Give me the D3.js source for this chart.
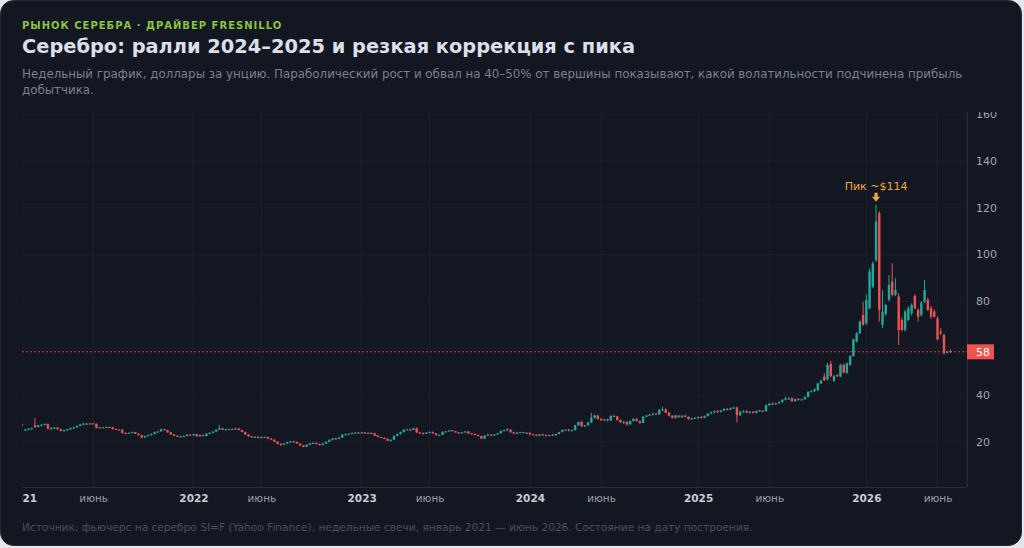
<!DOCTYPE html>
<html lang="ru">
<head>
<meta charset="utf-8">
<script src="https://d3js.org/d3.v7.min.js"></script>
<style>
  html, body { margin: 0; padding: 0; background: #e6e7eb; }
  svg { display: block; font-family: "DejaVu Sans", sans-serif; }
</style>
</head>
<body>
<svg id="chart" width="1024" height="548"></svg>
<script>
// weekly candles, first bar = week of 2020-12-28
const firstWeek = "2020-12-28";

const opens = [
  27.3,24.8,25.2,25.4,27.0,26.3,27.0,27.2,27.6,25.6,25.9,26.0,25.3,
  24.6,24.9,25.3,25.8,26.1,26.8,27.4,27.7,27.5,27.8,27.6,25.9,26.1,
  26.0,26.3,26.1,25.4,25.2,25.1,23.7,23.5,23.8,24.1,23.4,22.8,21.8,
  22.4,22.8,23.3,24.1,24.4,25.3,24.9,24.0,23.1,22.5,22.2,22.3,22.4,23.0,
  22.9,23.2,22.3,22.8,22.4,23.4,23.8,24.3,25.1,25.7,25.1,25.3,25.4,
  25.2,25.6,25.0,24.2,23.1,22.3,21.9,22.1,21.7,21.9,22.0,21.3,20.9,
  20.0,19.1,18.6,19.2,19.8,20.1,19.9,19.2,18.4,17.8,18.7,19.3,19.5,
  19.0,18.6,19.2,19.9,20.8,21.4,21.2,21.8,23.0,23.2,23.4,23.7,23.9,
  23.8,24.0,23.6,23.7,23.6,22.6,22.0,21.7,21.3,20.4,20.8,22.5,23.3,
  24.1,25.1,25.2,25.0,25.7,23.9,23.6,23.4,23.9,24.2,23.6,22.8,22.9,
  24.2,24.4,24.9,24.5,24.0,23.6,24.0,24.4,23.5,23.3,22.9,22.4,21.3,
  22.6,23.0,22.8,23.1,23.6,24.6,25.0,25.2,24.0,23.5,23.9,24.1,23.7,
  23.8,23.1,23.0,22.5,23.1,22.8,22.6,22.9,22.7,23.3,24.1,25.0,25.1,
  24.7,24.9,27.0,28.4,26.6,27.0,28.2,30.2,31.2,29.7,29.2,29.5,29.0,
  31.0,30.8,29.2,28.3,28.5,27.4,28.8,29.8,28.9,28.0,30.7,31.2,31.5,
  32.0,31.7,33.6,33.8,32.4,31.1,30.2,31.2,30.5,31.1,30.6,29.6,30.0,
  30.2,30.5,30.2,31.0,32.0,32.5,33.0,32.7,33.3,34.0,33.7,34.3,34.6,
  31.3,32.8,33.0,32.4,32.8,32.3,33.1,33.3,33.0,35.6,36.2,36.0,36.4,
  36.9,37.9,38.4,38.6,37.3,38.2,37.9,38.1,39.1,41.3,41.6,42.0,44.9,
  47.8,46.6,53.2,46.0,48.4,47.8,52.8,49.3,52.8,56.6,62.7,66.3,74.1,
  70.6,77.0,86.3,97.6,117.6,69.9,74.6,80.6,88.4,82.7,82.0,72.0,67.7,
  72.0,74.9,82.3,76.3,74.1,79.8,80.6,77.0,75.6,72.7,67.0,65.6,58.0,58.7
];
const highs = [
  27.6,25.5,25.8,26.0,30.1,27.2,27.5,27.9,27.8,26.2,26.3,26.3,25.5,
  25.2,25.5,26.0,26.4,27.0,27.6,28.2,28.0,28.0,28.1,27.9,26.3,26.4,
  26.5,26.5,26.3,25.6,25.4,25.3,24.0,23.9,24.3,24.2,23.6,23.0,22.6,
  23.0,23.5,24.3,24.6,25.6,25.5,25.1,24.2,23.3,22.8,22.5,22.7,23.2,23.3,
  23.5,23.4,23.1,23.0,23.6,24.1,24.6,25.3,27.1,25.9,25.6,25.6,25.7,
  26.0,25.8,25.2,24.3,23.2,22.6,22.4,22.4,22.3,22.2,22.1,21.5,21.0,
  20.2,19.3,19.4,20.0,20.4,20.5,20.0,19.3,18.5,18.9,19.5,19.8,19.7,
  19.2,19.4,20.2,21.0,21.6,21.8,22.0,23.2,23.5,23.6,24.0,24.2,24.1,
  24.3,24.2,24.0,24.0,23.8,22.8,22.1,21.9,21.4,21.0,22.7,23.5,24.3,
  25.4,25.5,25.6,26.0,26.1,24.2,24.0,24.1,24.4,24.3,23.7,23.0,24.4,
  24.6,25.0,25.0,24.6,24.1,24.2,24.6,24.6,23.8,23.6,23.1,22.5,22.8,
  23.4,23.3,23.3,23.8,24.8,25.2,25.9,25.3,24.3,24.2,24.3,24.2,24.0,
  24.0,23.4,23.1,23.3,23.4,23.2,23.0,23.2,23.4,24.3,25.2,25.3,25.4,
  25.2,27.2,28.6,29.0,27.2,28.5,32.4,31.6,31.5,30.2,29.8,29.8,31.3,
  31.6,31.1,29.5,28.9,28.7,29.0,30.0,30.0,29.0,30.9,31.4,31.8,32.3,
  32.3,34.0,34.9,34.2,32.6,31.3,31.5,31.3,31.4,31.6,30.9,30.3,30.4,
  30.8,31.0,31.2,32.3,32.9,33.4,33.5,33.6,34.3,34.4,34.6,34.9,35.0,
  33.2,33.5,33.6,33.1,33.2,33.4,33.6,33.5,35.9,36.6,36.8,36.7,37.2,
  38.2,39.3,39.0,39.0,38.5,38.6,38.4,39.3,41.6,42.0,42.8,45.2,46.5,
  49.3,53.6,54.5,48.6,48.9,53.2,53.4,53.8,57.0,64.0,66.8,71.8,79.8,
  82.9,94.0,97.0,121.2,118.5,84.8,79.0,91.2,96.2,89.8,83.5,73.0,76.3,
  77.8,79.2,83.0,77.0,80.0,89.1,81.5,78.0,76.5,73.5,68.5,66.2,58.8,59.3
];
const lows = [
  26.8,24.5,24.9,25.1,25.8,26.1,26.6,26.9,25.2,25.0,25.4,25.1,24.3,
  24.2,24.6,25.1,25.5,25.9,26.6,27.0,27.3,27.3,27.4,25.6,25.8,25.8,
  25.8,25.9,25.2,25.0,24.9,23.5,23.2,23.3,23.6,23.3,22.6,21.5,21.6,
  22.2,22.6,23.1,23.8,24.2,24.7,23.8,22.9,22.3,22.0,21.9,22.0,22.2,22.6,
  22.4,22.1,22.0,22.2,22.3,23.1,23.5,24.0,24.9,24.9,24.8,25.0,25.0,
  25.0,24.8,24.0,22.9,22.0,21.6,21.6,21.4,21.5,21.6,21.1,20.7,19.8,
  18.9,18.2,18.4,19.0,19.5,19.7,19.0,18.1,17.6,17.7,18.5,19.0,18.8,
  18.3,18.4,19.0,19.7,20.5,21.0,21.0,21.6,22.6,22.9,23.1,23.4,23.5,
  23.5,23.4,23.3,23.4,22.4,21.8,21.5,21.1,20.2,20.0,20.6,22.3,23.1,
  23.9,24.9,24.8,24.9,23.8,23.3,23.0,23.3,23.6,23.4,22.6,22.6,22.8,
  23.9,24.3,24.3,23.8,23.4,23.4,23.8,23.3,23.1,22.7,22.2,21.1,21.1,
  22.4,22.6,22.5,22.9,23.4,24.3,24.6,23.8,23.3,23.2,23.6,23.5,23.3,
  22.8,22.8,22.3,22.3,22.6,22.3,22.2,22.5,22.5,23.1,23.9,24.7,24.4,
  24.5,24.8,26.8,26.3,26.2,26.8,28.0,29.8,29.4,28.9,28.8,28.7,28.9,
  30.5,29.0,28.0,27.6,26.8,27.2,28.6,28.6,27.7,27.9,30.4,31.0,31.2,
  31.4,31.5,33.0,32.1,30.8,29.8,29.9,30.2,30.2,30.4,29.3,29.3,29.6,
  29.8,29.9,30.1,30.7,31.7,32.1,32.4,32.4,33.0,33.3,33.4,34.0,28.2,
  31.0,32.4,32.1,32.0,32.0,32.1,32.8,32.6,32.9,35.3,35.6,35.8,36.0,
  36.7,37.6,37.8,37.0,37.1,37.6,37.5,37.9,38.9,41.0,41.2,41.6,44.6,
  45.9,46.2,47.5,45.5,47.6,47.5,49.2,49.0,52.5,56.3,62.4,66.0,69.5,
  69.9,76.6,85.5,96.8,71.3,68.5,73.8,80.0,82.0,82.2,61.3,67.2,67.0,
  71.5,74.0,76.5,71.3,73.5,79.2,75.8,72.5,73.0,63.3,65.5,57.2,57.7,57.9
];
const closes = [
  26.9,25.2,25.4,25.8,26.3,27.0,27.2,27.6,25.6,25.9,26.0,25.3,24.6,
  24.9,25.3,25.8,26.1,26.8,27.4,27.7,27.5,27.8,27.6,25.9,26.1,26.0,
  26.3,26.1,25.4,25.2,25.1,23.7,23.5,23.8,24.1,23.4,22.8,21.8,22.4,
  22.8,23.3,24.1,24.4,25.3,24.9,24.0,23.1,22.5,22.2,22.3,22.4,23.0,22.9,
  23.2,22.3,22.8,22.4,23.4,23.8,24.3,25.1,25.7,25.1,25.3,25.4,25.2,
  25.6,25.0,24.2,23.1,22.3,21.9,22.1,21.7,21.9,22.0,21.3,20.9,20.0,
  19.1,18.6,19.2,19.8,20.1,19.9,19.2,18.4,17.8,18.7,19.3,19.5,19.0,
  18.6,19.2,19.9,20.8,21.4,21.2,21.8,23.0,23.2,23.4,23.7,23.9,23.8,
  24.0,23.6,23.7,23.6,22.6,22.0,21.7,21.3,20.4,20.8,22.5,23.3,24.1,
  25.1,25.2,25.0,25.7,23.9,23.6,23.4,23.9,24.2,23.6,22.8,22.9,24.2,
  24.4,24.9,24.5,24.0,23.6,24.0,24.4,23.5,23.3,22.9,22.4,21.3,22.6,
  23.0,22.8,23.1,23.6,24.6,25.0,25.2,24.0,23.5,23.9,24.1,23.7,23.8,
  23.1,23.0,22.5,23.1,22.8,22.6,22.9,22.7,23.3,24.1,25.0,25.1,24.7,
  24.9,27.0,28.4,26.6,27.0,28.2,30.2,31.2,29.7,29.2,29.5,29.0,31.0,
  30.8,29.2,28.3,28.5,27.4,28.8,29.8,28.9,28.0,30.7,31.2,31.5,32.0,
  31.7,33.6,33.8,32.4,31.1,30.2,31.2,30.5,31.1,30.6,29.6,30.0,30.2,
  30.5,30.2,31.0,32.0,32.5,33.0,32.7,33.3,34.0,33.7,34.3,34.6,31.3,
  32.8,33.0,32.4,32.8,32.3,33.1,33.3,33.0,35.6,36.2,36.0,36.4,36.9,
  37.9,38.4,38.6,37.3,38.2,37.9,38.1,39.1,41.3,41.6,42.4,44.9,46.1,
  46.3,52.8,48.0,48.0,48.0,52.8,49.5,53.5,56.6,63.7,66.3,71.3,69.9,
  80.6,92.7,96.2,114.0,76.3,75.6,78.4,87.0,82.7,84.8,67.7,67.7,75.6,
  77.0,78.4,77.0,73.4,79.4,84.8,76.3,73.4,73.4,63.7,66.3,57.8,58.5,58.4
];

const priceTicks = [20, 40, 60, 80, 100, 120, 140, 160];
const timeTicks = ["2020-12-28", "2021-05-31", "2022-01-03", "2022-05-30", "2023-01-02", "2023-05-29",
                   "2024-01-01", "2024-06-03", "2024-12-30", "2025-06-02", "2025-12-29", "2026-06-01"];
const timeLabels = ["2021", "июнь", "2022", "июнь", "2023", "июнь",
                    "2024", "июнь", "2025", "июнь", "2026", "июнь"];

const upColor = "#26a69a", downColor = "#ef5350";
const W = 1024, H = 548;
const plotLeft = 22, plotRight = 967, plotTop = 112.3, plotBottom = 487;
const step = 3.235;

if (opens.length !== closes.length || highs.length !== closes.length || lows.length !== closes.length) {
  throw new Error("lengths " + [opens.length, highs.length, lows.length, closes.length].join(","));
}

const svg = d3.select("#chart");
const parse = d3.utcParse("%Y-%m-%d");
const N = closes.length;
const start = parse(firstWeek);
const weeks = d3.range(N).map(i => d3.utcWeek.offset(start, i));

const x = d3.scaleUtc()
    .domain([weeks[0], weeks[N - 1]])
    .range([plotLeft, plotLeft + step * (N - 1)]);
const y = d3.scaleLinear()
    .domain([0, 160])
    .range([488.5, 114]);

// card
svg.append("rect")
    .attr("x", 0.5).attr("y", 0.5)
    .attr("width", W - 3).attr("height", H - 3)
    .attr("rx", 13)
    .attr("fill", "#131722")
    .attr("stroke", "#262a35");

const defs = svg.append("defs");
defs.append("clipPath").attr("id", "plot")
  .append("rect").attr("x", plotLeft).attr("y", plotTop)
  .attr("width", plotRight - plotLeft).attr("height", plotBottom - plotTop);
defs.append("clipPath").attr("id", "timeclip")
  .append("rect").attr("x", plotLeft).attr("y", plotBottom).attr("width", 990 - plotLeft).attr("height", 30);
defs.append("clipPath").attr("id", "priceclip")
  .append("rect").attr("x", plotRight).attr("y", plotTop).attr("width", 56).attr("height", plotBottom - plotTop);

// header
svg.append("text").attr("x", 22).attr("y", 29)
    .attr("fill", "#8dc441").attr("font-size", 10).attr("font-weight", "bold")
    .attr("letter-spacing", 1)
    .text("РЫНОК СЕРЕБРА · ДРАЙВЕР FRESNILLO");
svg.append("text").attr("x", 22).attr("y", 52.5)
    .attr("fill", "#dcdfe7").attr("font-size", 19.4).attr("font-weight", "bold")
    .text("Серебро: ралли 2024–2025 и резкая коррекция с пика");
const sub = svg.append("text").attr("fill", "#7b808f").attr("font-size", 11.85);
sub.append("tspan").attr("x", 22).attr("y", 78)
    .text("Недельный график, доллары за унцию. Параболический рост и обвал на 40–50% от вершины показывают, какой волатильности подчинена прибыль");
sub.append("tspan").attr("x", 22).attr("y", 93.5).text("добытчика.");

svg.append("text").attr("x", 22).attr("y", 530.5)
    .attr("fill", "#4a505e").attr("font-size", 10.6)
    .text("Источник: фьючерс на серебро SI=F (Yahoo Finance), недельные свечи, январь 2021 — июнь 2026. Состояние на дату построения.");

// grid
const grid = svg.append("g").attr("clip-path", "url(#plot)");
grid.selectAll("line.h").data(priceTicks).join("line")
    .attr("x1", plotLeft).attr("x2", plotRight)
    .attr("y1", d => y(d)).attr("y2", d => y(d))
    .attr("stroke", "#1d212c");
grid.selectAll("line.v").data(timeTicks.map(parse)).join("line")
    .attr("x1", d => x(d)).attr("x2", d => x(d))
    .attr("y1", plotTop).attr("y2", plotBottom)
    .attr("stroke", "#1d212c");

// borders
svg.append("line").attr("x1", plotRight + 0.5).attr("x2", plotRight + 0.5)
    .attr("y1", plotTop).attr("y2", plotBottom)
    .attr("stroke", "#2a2e39");
svg.append("line").attr("x1", plotLeft).attr("x2", plotRight)
    .attr("y1", plotBottom + 0.5).attr("y2", plotBottom + 0.5)
    .attr("stroke", "#2a2e39");

// last price line
const last = closes[N - 1];
svg.append("line")
    .attr("x1", plotLeft).attr("x2", plotRight)
    .attr("y1", y(last)).attr("y2", y(last))
    .attr("stroke", downColor).attr("stroke-dasharray", "2,2").attr("opacity", 0.85);

// candles
const bw = 2.4;
const candles = svg.append("g").attr("clip-path", "url(#plot)");
const idx = d3.range(N);
const col = i => closes[i] >= opens[i] ? upColor : downColor;
candles.selectAll("line.wick").data(idx).join("line")
    .attr("x1", i => x(weeks[i])).attr("x2", i => x(weeks[i]))
    .attr("y1", i => y(highs[i])).attr("y2", i => y(lows[i]))
    .attr("stroke", col).attr("stroke-width", 1);
candles.selectAll("rect.body").data(idx).join("rect")
    .attr("x", i => x(weeks[i]) - bw / 2)
    .attr("y", i => y(Math.max(opens[i], closes[i])))
    .attr("width", bw)
    .attr("height", i => Math.max(1, Math.abs(y(opens[i]) - y(closes[i]))))
    .attr("fill", col);

// price axis (outer group clips, inner group is shifted)
const yAxis = svg.append("g")
    .attr("clip-path", "url(#priceclip)")
  .append("g")
    .attr("transform", `translate(${plotRight},0)`)
    .call(d3.axisRight(y).tickValues(priceTicks).tickSize(0).tickPadding(9)
        .tickFormat(d => Math.abs(y(d) - y(last)) < 12 ? "" : d));
yAxis.select(".domain").remove();
yAxis.selectAll("text")
    .attr("fill", "#a3a6af").attr("font-size", 11).attr("font-family", "DejaVu Sans");

// last price label
svg.append("rect")
    .attr("x", plotRight).attr("y", y(last) - 7.5)
    .attr("width", 27).attr("height", 15)
    .attr("fill", downColor);
svg.append("text")
    .attr("x", plotRight + 9).attr("y", y(last)).attr("dy", "0.35em")
    .attr("fill", "#ffffff").attr("font-size", 11)
    .text(d3.format(".0f")(last));

// time axis
const xAxis = svg.append("g")
    .attr("clip-path", "url(#timeclip)")
  .append("g")
    .attr("transform", `translate(0,${plotBottom})`)
    .call(d3.axisBottom(x).tickValues(timeTicks.map(parse)).tickSize(0).tickPadding(8)
        .tickFormat((d, i) => timeLabels[i]));
xAxis.select(".domain").remove();
xAxis.selectAll("text")
    .attr("font-family", "DejaVu Sans")
    .attr("font-size", 10.5)
    .attr("font-weight", (d, i) => /^\d+$/.test(timeLabels[i]) ? "bold" : "normal")
    .attr("fill", (d, i) => /^\d+$/.test(timeLabels[i]) ? "#c9ccd4" : "#9a9ea8");

// peak annotation
const peak = d3.maxIndex(closes);
const px = x(weeks[peak]), tipY = y(highs[peak]) - 3;
svg.append("text")
    .attr("x", px).attr("y", tipY - 12)
    .attr("text-anchor", "middle")
    .attr("fill", "#f0a73a").attr("font-size", 11)
    .text("Пик ~$" + Math.round(closes[peak]));
svg.append("path")
    .attr("d", `M${px - 1.6},${tipY - 9} h3.2 v4 h2.4 L${px},${tipY} L${px - 4},${tipY - 5} h2.4 Z`)
    .attr("fill", "#f0a73a");
</script>
</body>
</html>
